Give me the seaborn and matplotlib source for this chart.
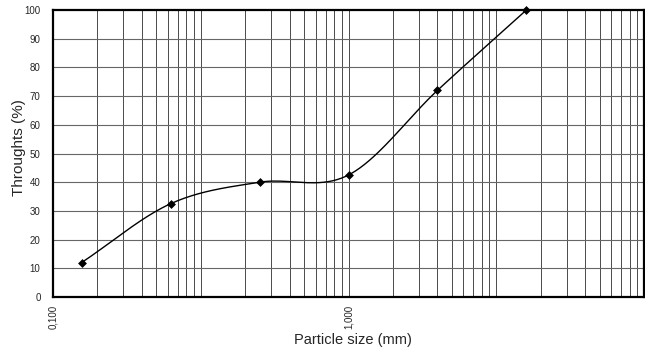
import numpy as np
import pandas as pd
import matplotlib
matplotlib.use("Agg")
import matplotlib.pyplot as plt
import seaborn as sns

# Data
particle_size = [0.125, 0.25, 0.5, 1.0, 2.0, 4.0]
throughts = [12, 32.5, 40, 42.5, 72, 100]
x_tick_values = [0.1, 1.0]
x_tick_labels = ["0,100", "1,000"]
y_tick_values = [0, 10, 20, 30, 40, 50, 60, 70, 80, 90, 100]

sns.set_style("white")
plt.rcParams["font.family"] = ["Liberation Sans", "DejaVu Sans"]

fig = plt.figure(figsize=(6.45, 3.56), dpi=100)
ax = fig.add_axes([53 / 645, 1 - 297 / 356, (644 - 53) / 645, 287 / 356])

# smooth curve (Catmull-Rom in log-x space, like spreadsheet smoothing)
lx = np.log10(np.array(particle_size))
yy = np.array(throughts, dtype=float)
P = np.column_stack([lx, yy])
Pext = np.vstack([2 * P[0] - P[1], P, 2 * P[-1] - P[-2]])
seg = []
for i in range(1, len(Pext) - 2):
    p0, p1, p2, p3 = Pext[i - 1], Pext[i], Pext[i + 1], Pext[i + 2]
    t = np.linspace(0, 1, 40)[:, None]
    pts = 0.5 * ((2 * p1) + (-p0 + p2) * t + (2 * p0 - 5 * p1 + 4 * p2 - p3) * t ** 2
                 + (-p0 + 3 * p1 - 3 * p2 + p3) * t ** 3)
    seg.append(pts)
curve = np.vstack(seg)
df_curve = pd.DataFrame({"size": 10 ** curve[:, 0], "thr": curve[:, 1]})
df_pts = pd.DataFrame({"size": particle_size, "thr": throughts})

ax.set_xscale("log")
ax.set_xlim(0.1, 10)
ax.set_ylim(0, 100)

# chart-paper grid: log cycles of half a decade
grid_x = [0.1 * np.sqrt(k * 10 ** c) for c in range(4) for k in range(1, 10)]
for gx in grid_x[1:]:
    ax.axvline(gx, color="#4a4a4a", lw=0.7, zorder=1)
for gy in y_tick_values[1:-1]:
    ax.axhline(gy, color="#666666", lw=0.8, zorder=1)

sns.lineplot(data=df_curve, x="size", y="thr", ax=ax, color="black", lw=1.0,
             sort=False, estimator=None, zorder=3)
sns.scatterplot(data=df_pts, x="size", y="thr", ax=ax, color="black", marker="D",
                s=16, edgecolor="black", linewidth=0.5, zorder=4, clip_on=False)

ax.set_xticks(x_tick_values)
ax.set_xticklabels(x_tick_labels, rotation=90, fontsize=7)
ax.xaxis.set_minor_locator(matplotlib.ticker.NullLocator())
ax.set_yticks(y_tick_values)
ax.set_yticklabels([str(v) for v in y_tick_values], fontsize=7)
ax.tick_params(axis="both", length=0, pad=6)
ax.tick_params(axis="y", pad=9)

for s in ax.spines.values():
    s.set_color("black")
    s.set_linewidth(1.6)

ax.set_xlabel("Particle size (mm)", fontsize=10.5)
ax.xaxis.set_label_coords(0.508, -0.125)
ax.set_ylabel("Throughts (%)", fontsize=11)
ax.yaxis.set_label_coords(-0.046, 0.52)

fig.savefig("out.png", dpi=100)
